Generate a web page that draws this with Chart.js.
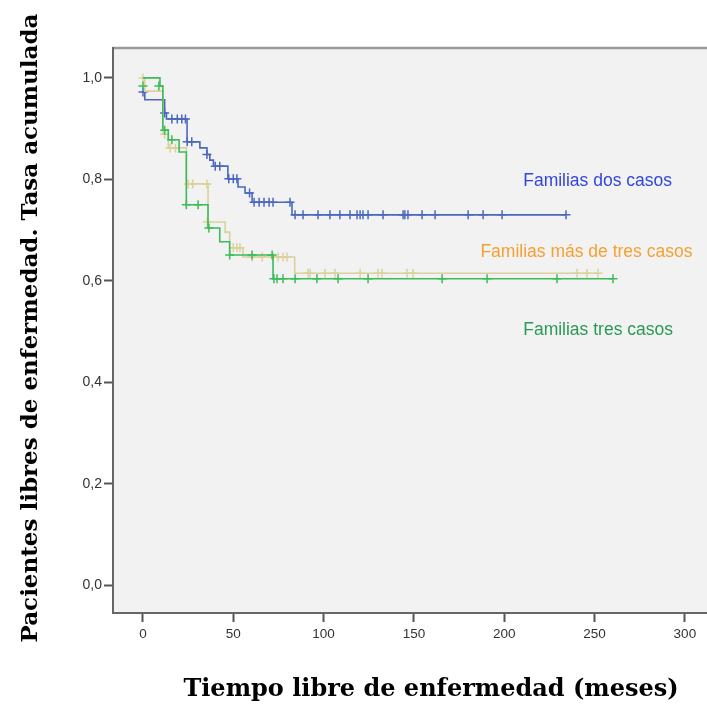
<!DOCTYPE html>
<html>
<head>
<meta charset="utf-8">
<script src="https://cdn.jsdelivr.net/npm/chart.js@4/dist/chart.umd.min.js"></script>
<style>
  html, body { margin: 0; padding: 0; background: #ffffff; overflow: hidden; }
  #wrap { width: 707px; height: 706px; overflow: hidden; position: relative; }
  canvas { display: block; }
</style>
</head>
<body>
<div id="wrap"><canvas id="c" width="760" height="706"></canvas></div>
<script>
// ---------- data ----------
const seriesNames = ['Familias dos casos', 'Familias más de tres casos', 'Familias tres casos'];

// Familias dos casos (blue) - step times (months) and cumulative survival
const blueT = [0, 1, 12, 13, 24.4, 31.5, 35.4, 37, 39, 47, 52.6, 56.5, 60.4, 82.5, 234];
const blueS = [0.972, 0.957, 0.931, 0.919, 0.874, 0.862, 0.849, 0.838, 0.826, 0.801, 0.785, 0.773, 0.755, 0.730, 0.730];
const blueCensT = [0, 12, 16, 19, 21.5, 23.5, 24.5, 27, 35.4, 40, 42.5, 47.5, 50, 52, 59,
  61.5, 64.3, 67, 69.8, 72, 81.4,
  84.2, 88.6, 96.9, 103.5, 109, 114.6, 118.5, 120.2, 121.8, 124.6, 132.9, 144, 145, 146.7, 154.5, 161.7,
  180, 188.3, 198.8, 234.2];
const blueCensS = [0.972, 0.931, 0.919, 0.919, 0.919, 0.919, 0.874, 0.874, 0.849, 0.826, 0.826, 0.801, 0.801, 0.801, 0.773,
  0.755, 0.755, 0.755, 0.755, 0.755, 0.755,
  0.730, 0.730, 0.730, 0.730, 0.730, 0.730, 0.730, 0.730, 0.730, 0.730, 0.730, 0.730, 0.730, 0.730, 0.730, 0.730,
  0.730, 0.730, 0.730, 0.730];

// Familias más de tres casos (beige)
const beigeT = [0, 1, 11, 14, 24, 36, 45.5, 48, 55.4, 84, 252];
const beigeS = [1.0, 0.974, 0.889, 0.862, 0.791, 0.716, 0.696, 0.665, 0.647, 0.615, 0.615];
const beigeCensT = [0, 12, 15, 18, 25, 27.5, 35.4, 35.6, 50, 52, 53.7,
  60.4, 66, 72, 74.8, 77.5, 79.7,
  91.4, 92.5, 100.8, 106.3, 120.2, 130.1, 132.3, 146.2, 149.5, 240.3, 245.8, 251.9];
const beigeCensS = [1.0, 0.889, 0.862, 0.862, 0.791, 0.791, 0.791, 0.716, 0.665, 0.665, 0.665,
  0.647, 0.647, 0.647, 0.647, 0.647, 0.647,
  0.615, 0.615, 0.615, 0.615, 0.615, 0.615, 0.615, 0.615, 0.615, 0.615, 0.615, 0.615];

// Familias tres casos (green)
const greenT = [0, 9.4, 11, 14, 20, 24, 36, 42.5, 48, 72, 260];
const greenS = [1.0, 0.984, 0.897, 0.878, 0.854, 0.750, 0.704, 0.677, 0.651, 0.604, 0.604];
const greenCensT = [0, 8.8, 12, 16, 24, 30.5, 36.5, 48, 60.4, 71.5,
  72.5, 74.2, 77.5, 84.2, 96.3, 108, 124.6, 165.6, 190.5, 229.2, 260.2];
const greenCensS = [0.984, 0.984, 0.897, 0.878, 0.750, 0.750, 0.704, 0.651, 0.651, 0.651,
  0.604, 0.604, 0.604, 0.604, 0.604, 0.604, 0.604, 0.604, 0.604, 0.604, 0.604];

const xTicks = [0, 50, 100, 150, 200, 250, 300];
const yTicks = [0, 0.2, 0.4, 0.6, 0.8, 1.0];
const yTickLabels = ['0,0', '0,2', '0,4', '0,6', '0,8', '1,0'];

const xTitle = 'Tiempo libre de enfermedad (meses)';
const yTitle = 'Pacientes libres de enfermedad. Tasa acumulada';

// ---------- styling ----------
const C_BLUE = '#4a68bd', C_BEIGE = '#dbd19c', C_GREEN = '#3cbb5a';
const T_BLUE = '#3346d8', T_ORANGE = '#f5a032', T_GREEN = '#2a9a56';

const pts = (t, s) => t.map((v, i) => ({ x: v, y: s[i] }));

function lineDs(label, t, s, color) {
  return { type: 'line', label, data: pts(t, s), stepped: 'before', borderColor: color,
    borderWidth: 1.6, pointRadius: 0, fill: false, tension: 0 };
}
function censDs(label, t, s, color) {
  return { type: 'scatter', label, data: pts(t, s), showLine: false, pointStyle: 'cross',
    pointRadius: 4.5, pointBorderWidth: 1.5, borderColor: color, backgroundColor: color, pointHoverRadius: 4.5 };
}

const frame = {
  id: 'frame',
  beforeDraw(chart) {
    const { ctx, chartArea: a } = chart;
    ctx.save();
    ctx.fillStyle = '#f2f2f2';
    ctx.fillRect(a.left, a.top, a.right - a.left, a.bottom - a.top);
    ctx.strokeStyle = '#9a9a9a';
    ctx.lineWidth = 2.5;
    ctx.beginPath();
    ctx.moveTo(a.left, a.top);
    ctx.lineTo(a.right, a.top);
    ctx.stroke();
    ctx.restore();
  },
  afterDraw(chart) {
    const { ctx, scales } = chart;
    const o = chart.options.plugins.frame;
    ctx.save();
    // series labels inside plot
    ctx.font = '17.5px "Liberation Sans", Arial, sans-serif';
    ctx.textBaseline = 'middle';
    ctx.textAlign = 'left';
    o.labels.forEach(l => {
      ctx.fillStyle = l.color;
      ctx.fillText(l.text, scales.x.getPixelForValue(l.x), scales.y.getPixelForValue(l.y));
    });
    // axis titles
    ctx.fillStyle = '#000';
    ctx.textAlign = 'center';
    ctx.font = 'bold 24px "DejaVu Serif", serif';
    ctx.fillText(xTitle, o.xTitleX, o.xTitleY);
    ctx.font = 'bold 23px "DejaVu Serif", serif';
    ctx.translate(o.yTitleX, o.yTitleY);
    ctx.rotate(-Math.PI / 2);
    ctx.fillText(yTitle, 0, 0);
    ctx.restore();
  }
};

new Chart(document.getElementById('c'), {
  data: {
    datasets: [
      censDs('c3', greenCensT, greenCensS, C_GREEN),
      lineDs(seriesNames[2], greenT, greenS, C_GREEN),
      censDs('c2', beigeCensT, beigeCensS, C_BEIGE),
      lineDs(seriesNames[1], beigeT, beigeS, C_BEIGE),
      censDs('c1', blueCensT, blueCensS, C_BLUE),
      lineDs(seriesNames[0], blueT, blueS, C_BLUE)
    ]
  },
  plugins: [frame],
  options: {
    responsive: false,
    animation: false,
    devicePixelRatio: 1,
    layout: { padding: { top: 48, left: 0, right: 39, bottom: 0 } },
    plugins: {
      legend: { display: false },
      tooltip: { enabled: false },
      frame: {
        labels: [
          { text: seriesNames[0], color: T_BLUE, x: 210.5, y: 0.797 },
          { text: seriesNames[1], color: T_ORANGE, x: 186.8, y: 0.656 },
          { text: seriesNames[2], color: T_GREEN, x: 210.5, y: 0.503 }
        ],
        xTitleX: 431, xTitleY: 690,
        yTitleX: 31, yTitleY: 328
      }
    },
    scales: {
      x: {
        type: 'linear', position: 'bottom', min: -16.6, max: 320,
        afterBuildTicks: s => { s.ticks = xTicks.map(v => ({ value: v })); },
        afterFit: s => { s.height = 93; },
        grid: { drawOnChartArea: false, drawTicks: true, tickLength: 9, tickWidth: 2, tickColor: '#555' },
        border: { display: true, color: '#666', width: 2 },
        ticks: { padding: 4, color: '#333', font: { family: '"Liberation Sans", Arial, sans-serif', size: 13.5 }, maxRotation: 0,
          callback: v => String(v) }
      },
      y: {
        type: 'linear', position: 'left', min: -0.055, max: 1.059,
        afterBuildTicks: s => { s.ticks = yTicks.map(v => ({ value: v })); },
        afterFit: s => { s.width = 113; },
        grid: { drawOnChartArea: false, drawTicks: true, tickLength: 9, tickWidth: 2, tickColor: '#555' },
        border: { display: true, color: '#666', width: 2 },
        ticks: { padding: 2, color: '#333', font: { family: '"Liberation Sans", Arial, sans-serif', size: 14 },
          callback: v => yTickLabels[yTicks.findIndex(t => Math.abs(t - v) < 1e-6)] }
      }
    }
  }
});
</script>
</body>
</html>
